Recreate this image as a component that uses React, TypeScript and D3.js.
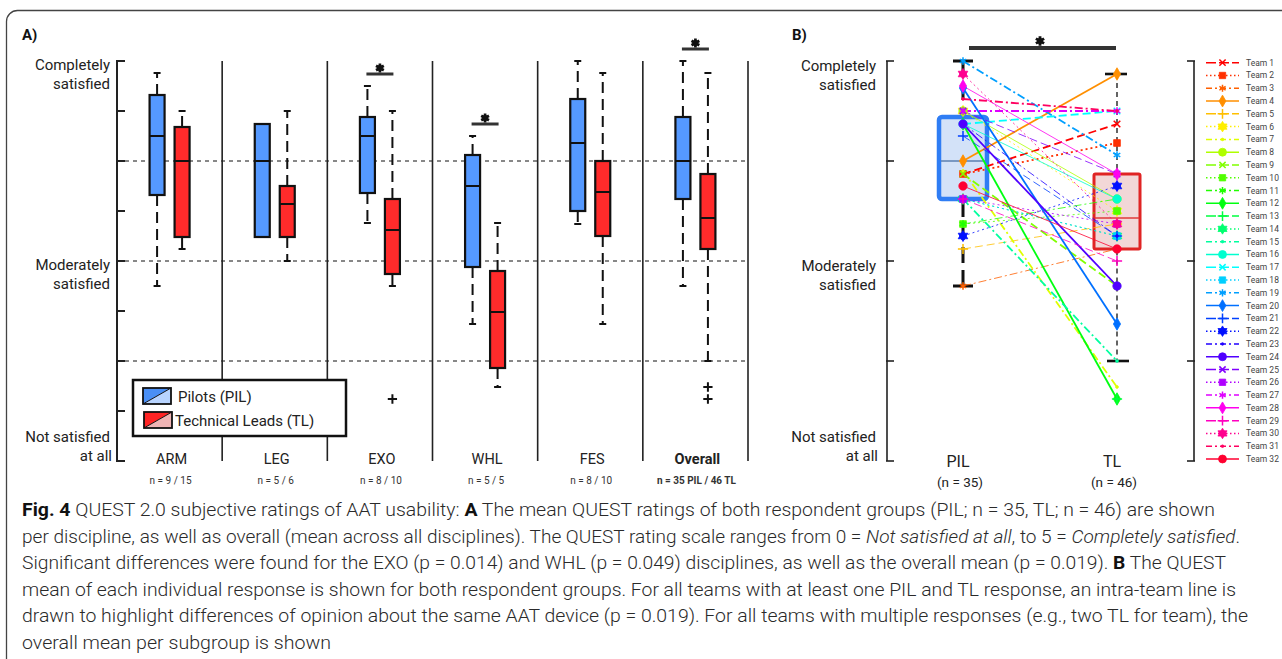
import React from "react";
import * as d3 from "d3";

// ---------- Panel A data ----------
const categories = ["ARM", "LEG", "EXO", "WHL", "FES", "Overall"];
const sampleSizes = ["n = 9 / 15", "n = 5 / 6", "n = 8 / 10", "n = 5 / 5", "n = 8 / 10", "n = 35 PIL / 46 TL"];
// [lower whisker, q1, median, q3, upper whisker]
const pilStats = [
  [2.75, 3.66, 4.25, 4.66, 4.88],
  [3.24, 3.24, 4.0, 4.37, 4.37],
  [3.38, 3.68, 4.25, 4.44, 4.75],
  [2.37, 2.94, 3.75, 4.06, 4.25],
  [3.37, 3.5, 4.18, 4.62, 5.0],
  [2.75, 3.62, 4.0, 4.44, 5.0],
];
const tlStats = [
  [3.12, 3.24, 4.0, 4.34, 4.5],
  [3.0, 3.24, 3.57, 3.75, 4.5],
  [2.75, 2.87, 3.31, 3.62, 4.5],
  [1.74, 1.93, 2.49, 2.9, 3.38],
  [2.37, 3.25, 3.69, 4.0, 4.88],
  [2.0, 3.12, 3.43, 3.87, 4.88],
];
const tlOutliers = [[], [], [1.62], [], [], [1.74, 1.62]];
const significant = ["EXO", "WHL", "Overall"];

// ---------- Panel B data ----------
const groups = ["PIL", "TL"];
const groupSizes = ["(n = 35)", "(n = 46)"];
const pilOverall = [2.75, 3.62, 4.0, 4.44, 5.0];
const tlOverall = [2.0, 3.12, 3.43, 3.87, 4.87];
const teamNames = [
  "Team 1", "Team 2", "Team 3", "Team 4", "Team 5", "Team 6", "Team 7", "Team 8",
  "Team 9", "Team 10", "Team 11", "Team 12", "Team 13", "Team 14", "Team 15", "Team 16",
  "Team 17", "Team 18", "Team 19", "Team 20", "Team 21", "Team 22", "Team 23", "Team 24",
  "Team 25", "Team 26", "Team 27", "Team 28", "Team 29", "Team 30", "Team 31", "Team 32",
];
const teamPIL = [
  3.87, 3.87, 2.75, 4.0, 3.12, 4.5, 3.9, 4.5,
  3.87, 3.37, 3.37, 4.37, null, 3.62, 3.62, 4.37,
  4.37, 3.62, 5.0, 4.73, 4.25, 3.25, 4.37, 4.37,
  4.5, 3.62, 4.5, 4.75, 3.62, 4.87, 4.62, 3.75,
];
const teamTL = [
  4.37, 4.18, 3.12, 4.87, 3.37, 3.5, 1.74, 3.62,
  2.75, 3.5, 3.62, 1.62, 1.62, 3.25, 2.0, 3.62,
  4.5, 3.25, 4.06, 2.37, 3.25, 3.75, 3.25, 2.75,
  3.87, 3.37, 4.5, 3.87, 3.0, 3.37, 4.5, 3.12,
];

// ---------- shared labels ----------
const scaleLabels = [["Completely", "satisfied"], ["Moderately", "satisfied"], ["Not satisfied", "at all"]];
const scaleLabelValues = [5, 3, 1];

// styling helpers
const markerCycle = ["x", "square", "asterisk", "diamond", "plus", "hexagram", "point", "circle"];
const styleCycle = ["--", ":", "-.", "-"];
const heavyTeams = [1, 2, 4, 7, 9, 12, 15, 17, 19, 20, 24, 27, 31];
const dashFor: Record<string, string | undefined> = { "-": undefined, "--": "8,4", ":": "2,3", "-.": "8,3,2,3" };
const teamColor = (i: number) => d3.hsl((i * 360) / 32, 1, 0.5).formatHex();

const symbolHexagram = {
  draw(ctx: any, size: number) {
    const r = Math.sqrt(size / 1.3);
    for (const off of [-90, 90]) {
      for (let k = 0; k < 3; k++) {
        const a = ((off + k * 120) * Math.PI) / 180;
        const px = r * Math.cos(a), py = r * Math.sin(a);
        if (k === 0) ctx.moveTo(px, py); else ctx.lineTo(px, py);
      }
      ctx.closePath();
    }
  },
};

function Marker({ kind, x, y, color, scale = 1 }: any) {
  const filled = kind === "square" || kind === "diamond" || kind === "hexagram" || kind === "circle" || kind === "point";
  const typeMap: Record<string, any> = {
    x: d3.symbolTimes, square: d3.symbolSquare, asterisk: d3.symbolAsterisk, diamond: d3.symbolDiamond,
    plus: d3.symbolPlus, hexagram: symbolHexagram, point: d3.symbolCircle, circle: d3.symbolCircle,
  };
  const sizeMap: Record<string, number> = { x: 30, square: 45, asterisk: 40, diamond: 45, plus: 36, hexagram: 40, point: 6, circle: 55 };
  const d = d3.symbol(typeMap[kind], sizeMap[kind] * scale)()!;
  return (
    <path
      d={d}
      transform={`translate(${x},${y})`}
      fill={filled ? color : "none"}
      stroke={color}
      strokeWidth={filled ? 0.8 : 1.5}
    />
  );
}

function SigStar({ x, y, s = 1 }: any) {
  return (
    <g transform={`translate(${x},${y}) scale(${s})`}>
      <path d={d3.symbol(d3.symbolAsterisk, 70)()!} stroke="#111" strokeWidth={3} fill="none" />
      <circle r={3.2} fill="#111" />
    </g>
  );
}

const FONT = "Roboto, 'DejaVu Sans', sans-serif";

export default function App() {
  // panel A scales
  const yA = d3.scaleLinear().domain([1, 5]).range([461, 61]);
  const xA = d3.scaleBand().domain(categories).range([117, 748]).paddingInner(0);
  const bw = xA.bandwidth();
  const center = (c: string) => (xA(c) as number) + bw / 2;
  const pilX = (c: string) => center(c) - 12.5;
  const tlX = (c: string) => center(c) + 12.5;

  // panel B scales
  const yB = d3.scaleLinear().domain([1, 5]).range([461, 61]);
  const xB = d3.scalePoint().domain(groups).range([963, 1117]);
  const legendY = d3.scalePoint().domain(teamNames).range([62.7, 459]);

  const boxA = (cx: number, s: number[], fill: string, key: string) => {
    const [lo, q1, med, q3, hi] = s;
    const w = 15;
    return (
      <g key={key}>
        <line x1={cx} x2={cx} y1={yA(q3)} y2={yA(hi)} stroke="#111" strokeWidth={2} strokeDasharray="11,6" />
        <line x1={cx} x2={cx} y1={yA(q1)} y2={yA(lo)} stroke="#111" strokeWidth={2} strokeDasharray="11,6" />
        <line x1={cx - 3.5} x2={cx + 3.5} y1={yA(hi)} y2={yA(hi)} stroke="#111" strokeWidth={2} />
        <line x1={cx - 3.5} x2={cx + 3.5} y1={yA(lo)} y2={yA(lo)} stroke="#111" strokeWidth={2} />
        <rect x={cx - w / 2} y={yA(q3)} width={w} height={yA(q1) - yA(q3)} fill={fill} stroke="#111" strokeWidth={2.2} />
        <line x1={cx - w / 2} x2={cx + w / 2} y1={yA(med)} y2={yA(med)} stroke="#111" strokeWidth={2} />
      </g>
    );
  };

  const caption: { t: string; b?: boolean; i?: boolean }[][] = [
    [{ t: "Fig. 4", b: true }, { t: "  QUEST 2.0 subjective ratings of AAT usability: " }, { t: "A", b: true }, { t: " The mean QUEST ratings of both respondent groups (PIL; n = 35, TL; n = 46) are shown" }],
    [{ t: "per discipline, as well as overall (mean across all disciplines). The QUEST rating scale ranges from 0 = " }, { t: "Not satisfied at all", i: true }, { t: ", to 5 = " }, { t: "Completely satisfied", i: true }, { t: "." }],
    [{ t: "Significant differences were found for the EXO (p = 0.014) and WHL (p = 0.049) disciplines, as well as the overall mean (p = 0.019). " }, { t: "B", b: true }, { t: " The QUEST" }],
    [{ t: "mean of each individual response is shown for both respondent groups. For all teams with at least one PIL and TL response, an intra-team line is" }],
    [{ t: "drawn to highlight differences of opinion about the same AAT device (p = 0.019). For all teams with multiple responses (e.g., two TL for team), the" }],
    [{ t: "overall mean per subgroup is shown" }],
  ];
  const captionEnds = [1215, 1240, 1226, 1236, 1248, 331];

  return (
    <svg width={1282} height={659} style={{ position: "absolute", left: 0, top: 0, background: "#fff" }} fontFamily={FONT}>
      <rect x={6.5} y={10.5} width={1400} height={800} rx={11} fill="none" stroke="#444" strokeWidth={1.3} />

      {/* ================= Panel A ================= */}
      <text x={22} y={40} fontSize={15} fontWeight={700} fill="#111">A)</text>

      {/* dashed grid lines */}
      {[2, 3, 4].map((v) => (
        <line key={v} x1={117} x2={748} y1={yA(v)} y2={yA(v)} stroke="#111" strokeWidth={1} strokeDasharray="4,4" />
      ))}
      {/* category separators */}
      {categories.map((c) => (
        <line key={c} x1={(xA(c) as number) + bw} x2={(xA(c) as number) + bw} y1={yA(5)} y2={yA(1)} stroke="#222" strokeWidth={1.6} />
      ))}
      {/* bracket axis */}
      <line x1={117} x2={117} y1={yA(5) - 1} y2={yA(1) + 1} stroke="#222" strokeWidth={2} />
      {d3.range(1, 5.01, 0.5).map((v) => (
        <line key={v} x1={116} x2={125} y1={yA(v)} y2={yA(v)} stroke="#222" strokeWidth={2} />
      ))}
      {scaleLabels.map((lines, k) => (
        <text key={k} textAnchor="end" fontSize={15} fill="#222">
          <tspan x={110} y={yA(scaleLabelValues[k]) + (k === 2 ? -19 : 9)}>{lines[0]}</tspan>
          <tspan x={k === 2 ? 112 : 110} y={yA(scaleLabelValues[k]) + (k === 2 ? 0 : 28)}>{lines[1]}</tspan>
        </text>
      ))}

      {/* boxes */}
      {categories.map((c, i) => boxA(pilX(c), pilStats[i], "#5599ff", "p" + c))}
      {categories.map((c, i) => boxA(tlX(c), tlStats[i], "#ff2b2b", "t" + c))}
      {categories.map((c, i) =>
        tlOutliers[i].map((v, j) => (
          <path key={c + j} d={d3.symbol(d3.symbolPlus, 30)()!} transform={`translate(${tlX(c)},${yA(v)})`} stroke="#111" strokeWidth={2} fill="none" />
        ))
      )}
      {/* significance markers */}
      {significant.map((c) => {
        const i = categories.indexOf(c);
        const top = Math.max(pilStats[i][4], tlStats[i][4]) + 0.12;
        return (
          <g key={c}>
            <line x1={pilX(c) - 1} x2={tlX(c) + 1} y1={yA(top)} y2={yA(top)} stroke="#333" strokeWidth={3} />
            <SigStar x={(pilX(c) + tlX(c)) / 2} y={yA(top) - 6} s={0.9} />
          </g>
        );
      })}

      {/* category labels */}
      {categories.map((c, i) => (
        <g key={c}>
          <text x={center(c) + 2} y={464} textAnchor="middle" fontSize={14.5} fontWeight={i === 5 ? 700 : 400} fill="#222">{c}</text>
          <text x={center(c) + 1} y={484} textAnchor="middle" fontSize={10} fontWeight={i === 5 ? 700 : 400} fill="#333">{sampleSizes[i]}</text>
        </g>
      ))}

      {/* legend A */}
      <rect x={133} y={380} width={213} height={56} fill="#fff" stroke="#111" strokeWidth={2.5} />
      <g>
        <path d="M143,388 L171,388 L143,404 Z" fill="#4a8ff5" />
        <path d="M171,388 L171,404 L143,404 Z" fill="#b8d4ff" />
        <rect x={143} y={388} width={28} height={16} fill="none" stroke="#111" strokeWidth={1.8} />
        <line x1={143} y1={404} x2={171} y2={388} stroke="#111" strokeWidth={1} />
        <text x={178} y={402} fontSize={15} fill="#222">Pilots (PIL)</text>
      </g>
      <g>
        <path d="M144,412 L172,412 L144,428 Z" fill="#ff2424" />
        <path d="M172,412 L172,428 L144,428 Z" fill="#efb4b4" />
        <rect x={144} y={412} width={28} height={16} fill="none" stroke="#111" strokeWidth={1.8} />
        <line x1={144} y1={428} x2={172} y2={412} stroke="#111" strokeWidth={1} />
        <text x={175} y={426} fontSize={15} fill="#222">Technical Leads (TL)</text>
      </g>

      {/* ================= Panel B ================= */}
      <text x={792} y={40} fontSize={15} fontWeight={700} fill="#111">B)</text>
      <line x1={887} x2={887} y1={yB(5)} y2={yB(1)} stroke="#222" strokeWidth={1.6} />
      {d3.range(1, 5.01, 1).map((v) => (
        <line key={v} x1={886} x2={894} y1={yB(v)} y2={yB(v)} stroke="#222" strokeWidth={1.6} />
      ))}
      {scaleLabels.map((lines, k) => (
        <text key={k} textAnchor="end" fontSize={15} fill="#222">
          <tspan x={876} y={yB(scaleLabelValues[k]) + (k === 2 ? -19 : 10)}>{lines[0]}</tspan>
          <tspan x={k === 2 ? 878 : 876} y={yB(scaleLabelValues[k]) + (k === 2 ? 0 : 29)}>{lines[1]}</tspan>
        </text>
      ))}
      {/* right bracket of legend */}
      <line x1={1194} x2={1194} y1={yB(5)} y2={yB(1)} stroke="#222" strokeWidth={1.6} />
      {d3.range(1, 5.01, 1).map((v) => (
        <line key={v} x1={1187} x2={1195} y1={yB(v)} y2={yB(v)} stroke="#222" strokeWidth={1.6} />
      ))}

      {/* boxes B */}
      {(() => {
        const px = xB("PIL") as number, tx = xB("TL") as number;
        const [plo, pq1, pmed, pq3, phi] = pilOverall;
        const [tlo, tq1, tmed, tq3, thi] = tlOverall;
        return (
          <g>
            <rect x={px - 24} y={yB(pq3)} width={48} height={yB(pq1) - yB(pq3)} rx={3} fill="#d3e2f8" stroke="#2f7df4" strokeWidth={4.5} />
            <line x1={px - 22} x2={px + 22} y1={yB(pmed)} y2={yB(pmed)} stroke="#5b7fb0" strokeWidth={1.6} />
            <rect x={tx - 23} y={yB(tq3)} width={46} height={yB(tq1) - yB(tq3)} rx={1.5} fill="#f2d7d7" stroke="#e02424" strokeWidth={3} />
            <line x1={tx - 22} x2={tx + 22} y1={yB(tmed)} y2={yB(tmed)} stroke="#e03a3a" strokeWidth={1.6} />
            {/* whiskers */}
            <line x1={px} x2={px} y1={yB(phi)} y2={yB(pq3) - 2} stroke="#111" strokeWidth={3} strokeDasharray="16,7" />
            <line x1={px} x2={px} y1={yB(pq1) + 2} y2={yB(plo)} stroke="#111" strokeWidth={3} strokeDasharray="16,7" />
            <line x1={px - 10} x2={px + 10} y1={yB(phi)} y2={yB(phi)} stroke="#111" strokeWidth={3} />
            <line x1={px - 10} x2={px + 10} y1={yB(plo)} y2={yB(plo)} stroke="#111" strokeWidth={3} />
            <line x1={tx} x2={tx} y1={yB(thi)} y2={yB(tq3) - 1.5} stroke="#111" strokeWidth={1.3} strokeDasharray="5,4" />
            <line x1={tx} x2={tx} y1={yB(tq1) + 1.5} y2={yB(tlo)} stroke="#111" strokeWidth={1.3} strokeDasharray="5,4" />
            <line x1={tx - 12} x2={tx + 10} y1={yB(thi)} y2={yB(thi)} stroke="#111" strokeWidth={2.6} />
            <line x1={tx - 10} x2={tx + 12} y1={yB(tlo)} y2={yB(tlo)} stroke="#111" strokeWidth={2.6} />
          </g>
        );
      })()}

      {/* intra-team lines */}
      {teamNames.map((name, i) => {
        const a = teamPIL[i], b = teamTL[i];
        if (a == null || b == null) return null;
        const st = styleCycle[i % 4];
        const wgt = heavyTeams.includes(i + 1) ? 1.8 : 0.8;
        return (
          <line
            key={name}
            x1={xB("PIL")} y1={yB(a)} x2={xB("TL")} y2={yB(b)}
            stroke={teamColor(i)} strokeWidth={wgt}
            strokeDasharray={dashFor[st]}
          />
        );
      })}
      {/* team markers */}
      {teamNames.map((name, i) => (
        <g key={name}>
          {teamPIL[i] != null && <Marker kind={markerCycle[i % 8]} x={xB("PIL")} y={yB(teamPIL[i] as number)} color={teamColor(i)} />}
          {teamTL[i] != null && <Marker kind={markerCycle[i % 8]} x={xB("TL")} y={yB(teamTL[i] as number)} color={teamColor(i)} />}
        </g>
      ))}

      {/* significance B */}
      <line x1={969} x2={1116} y1={48} y2={48} stroke="#333" strokeWidth={4} />
      <SigStar x={1040} y={41} s={0.95} />

      {/* group labels */}
      {groups.map((g, i) => (
        <g key={g}>
          <text x={(xB(g) as number) - 5} y={467} textAnchor="middle" fontSize={16} fill="#222">{g}</text>
          <text x={(xB(g) as number) - 3} y={487} textAnchor="middle" fontSize={13.5} fill="#222">{groupSizes[i]}</text>
        </g>
      ))}

      {/* team legend */}
      {teamNames.map((name, i) => {
        const y = legendY(name) as number;
        const st = styleCycle[i % 4];
        return (
          <g key={name}>
            <line x1={1206} x2={1239} y1={y} y2={y} stroke={teamColor(i)} strokeWidth={1.5} strokeDasharray={st === "--" ? "10,3" : st === ":" ? "1.5,2.5" : st === "-." ? "6,3,2,3" : undefined} />
            <Marker kind={markerCycle[i % 8]} x={1222.5} y={y} color={teamColor(i)} scale={0.9} />
            <text x={1246} y={y + 3} fontSize={8.5} fill="#444">{name}</text>
          </g>
        );
      })}

      {/* caption */}
      {caption.map((segs, k) => (
        <text key={k} x={22} y={516 + k * 26.6} fontSize={18} fontWeight={300} fill="#2a2a2a" textLength={captionEnds[k] - 22} lengthAdjust="spacingAndGlyphs">
          {segs.map((s, j) => (
            <tspan key={j} fontWeight={s.b ? 700 : 300} fontStyle={s.i ? "italic" : "normal"} fill={s.b ? "#111" : undefined}>{s.t}</tspan>
          ))}
        </text>
      ))}
    </svg>
  );
}
